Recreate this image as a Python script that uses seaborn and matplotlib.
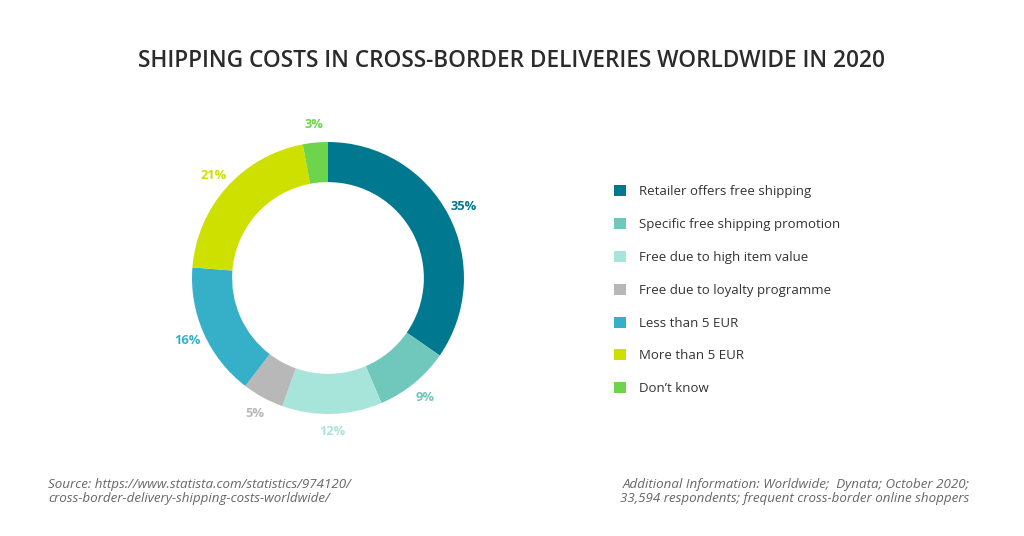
import matplotlib
matplotlib.use("Agg")
import matplotlib.pyplot as plt
import seaborn as sns

# shipping cost categories and shares (%)
categories = ["Retailer offers free shipping", "Specific free shipping promotion",
              "Free due to high item value", "Free due to loyalty programme",
              "Less than 5 EUR", "More than 5 EUR", "Don\u2019t know"]
shares = [35, 9, 12, 5, 16, 21, 3]
colors = ["#00788f", "#70c8bd", "#a7e5da", "#b8b8b8", "#36b0c9", "#cde000", "#6dd44b"]

sns.set_theme(style="white")
plt.rcParams["font.family"] = ["Open Sans", "DejaVu Sans"]

fig = plt.figure(figsize=(10.24, 5.36), dpi=100)
ax = fig.add_axes([0.1875, 0.2276, 0.2656, 0.5075])

wedges, texts = ax.pie(shares, colors=colors, startangle=90, counterclock=False,
                       radius=1, wedgeprops=dict(width=0.295, linewidth=0),
                       labels=[f"{v}%" for v in shares], labeldistance=1.13)
for t, c in zip(texts, colors):
    t.set_color(c)
    t.set_fontweight("bold")
    t.set_fontsize(9.3)
    t.set_ha("center")
    t.set_va("center")
ax.set_xlim(-1, 1)
ax.set_ylim(-1, 1)
ax.set_aspect("equal")
ax.axis("off")

leg = fig.legend(wedges, categories, loc="upper left", bbox_to_anchor=(0.5935, 0.6665),
                 frameon=False, fontsize=9.5, handlelength=0.9, handleheight=0.9,
                 handletextpad=0.95, labelspacing=1.5, borderpad=0)
for t in leg.get_texts():
    t.set_color("#333333")

fig.text(0.5, 0.886, "SHIPPING COSTS IN CROSS-BORDER DELIVERIES WORLDWIDE IN 2020",
         ha="center", va="center", fontsize=16.3, fontweight="semibold", color="#2b2b2b")

fig.text(0.047, 0.083, "Source: https://www.statista.com/statistics/974120/\ncross-border-delivery-shipping-costs-worldwide/",
         ha="left", va="center", fontsize=9.6, style="italic", color="#666666", linespacing=1.12)
fig.text(0.947, 0.083, "Additional Information: Worldwide;  Dynata; October 2020;\n33,594 respondents; frequent cross-border online shoppers",
         ha="right", va="center", fontsize=9.6, style="italic", color="#666666", linespacing=1.12,
         multialignment="right")

fig.savefig("out.png", dpi=100, facecolor="white")
